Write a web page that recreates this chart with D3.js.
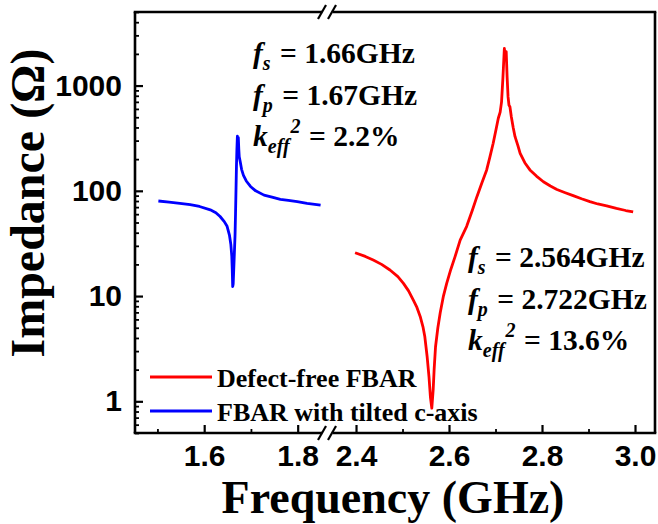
<!DOCTYPE html>
<html>
<head>
<meta charset="utf-8">
<script src="https://cdn.jsdelivr.net/npm/d3@7"></script>
<style>
  html, body { margin: 0; padding: 0; background: #fff; }
  svg { display: block; }
</style>
</head>
<body>
<svg id="chart" width="658" height="524"></svg>
<script>
// ---- data ----
const blueFreq = [1.502, 1.525, 1.548, 1.570, 1.590, 1.613, 1.625, 1.634, 1.643, 1.649, 1.654, 1.657, 1.659, 1.660, 1.661, 1.662, 1.664, 1.666, 1.667, 1.668, 1.669, 1.670, 1.671, 1.672, 1.673, 1.674, 1.675, 1.677, 1.680, 1.684, 1.690, 1.699, 1.710, 1.728, 1.745, 1.763, 1.780, 1.799, 1.820, 1.849];
const blueZ    = [80, 78, 76, 74, 71, 66, 62, 57, 51, 46, 38, 31, 24, 18, 12.3, 13, 22, 38, 60, 100, 170, 250, 330, 270, 320, 250, 210, 190, 160, 140, 124, 110, 100, 91, 87, 83, 81, 79, 76, 73];

const redFreq = [2.398, 2.420, 2.437, 2.455, 2.473, 2.490, 2.502, 2.513, 2.523, 2.531, 2.538, 2.544, 2.548, 2.553, 2.557, 2.560, 2.563, 2.566, 2.568, 2.571, 2.576, 2.581, 2.588, 2.595, 2.604, 2.613, 2.624, 2.638, 2.650, 2.660, 2.671, 2.681, 2.688, 2.695, 2.701, 2.706, 2.710, 2.713, 2.716, 2.719, 2.721, 2.723, 2.725, 2.727, 2.729, 2.731, 2.734, 2.738, 2.742, 2.748, 2.753, 2.763, 2.774, 2.788, 2.803, 2.818, 2.832, 2.850, 2.867, 2.885, 2.903, 2.920, 2.939, 2.960, 2.980, 2.996];
const redZ    = [25.8, 23.8, 22, 20, 17.7, 15.3, 13.2, 11.2, 9.2, 7.8, 6.4, 5.1, 4.1, 2.65, 1.7, 1.1, 0.86, 1.3, 2.0, 3.3, 5.0, 6.9, 10, 13.2, 18, 23.7, 34, 46, 65, 88, 120, 158, 210, 283, 380, 489, 560, 700, 1200, 2250, 1900, 2100, 1200, 780, 650, 630, 506, 400, 327, 270, 227, 185, 158, 138, 122, 111, 103, 96, 90, 84, 79, 75, 72, 68, 65, 63];

const xTicksLeft  = [1.6, 1.8];
const xMinorLeft  = [1.5, 1.7];
const xTicksRight = [2.4, 2.6, 2.8, 3.0];
const xMinorRight = [2.5, 2.7, 2.9];
const yTicks = [1, 10, 100, 1000];
const seriesNames = ["Defect-free FBAR", "FBAR with tilted c-axis"];
const seriesColors = ["#ff0000", "#0000ff"];
const annoLeft  = { fs: "1.66GHz", fp: "1.67GHz", k: "2.2%" };
const annoRight = { fs: "2.564GHz", fp: "2.722GHz", k: "13.6%" };

(function () {
// ---- layout ----
const svg = d3.select("#chart");
const pTop = 12, pBottom = 433, pLeft = 135, pRight = 655;
const breakL = 322, breakR = 333;

const xL = d3.scaleLinear().domain([1.452, 1.852]).range([pLeft, breakL]);
const xR = d3.scaleLinear().domain([2.3505, 3.043]).range([breakR, pRight]);
const y  = d3.scaleLog().domain([0.5, 5000]).range([pBottom, pTop]);

const serif = "'Liberation Serif', 'Times New Roman', serif";
const sans  = "'Liberation Sans', Arial, sans-serif";

// minor y ticks
const yMinor = [];
[0.1, 1, 10, 100, 1000].forEach(d => { for (let k = 2; k <= 9; k++) { const v = d * k; if (v >= 0.5 && v <= 5000) yMinor.push(v); } });

// y axis
const gy = svg.append("g").attr("transform", `translate(${pLeft},0)`);
gy.call(d3.axisLeft(y).tickValues(yMinor).tickSize(-4).tickFormat(""));
gy.selectAll(".tick line").attr("stroke-width", 1.8);
const gy2 = svg.append("g").attr("transform", `translate(${pLeft},0)`);
gy2.call(d3.axisLeft(y).tickValues(yTicks).tickSize(-8).tickPadding(13).tickFormat(d3.format("d")));
gy2.selectAll(".tick line").attr("stroke-width", 2.2);
gy2.selectAll("text").attr("font-family", sans).attr("font-weight", "bold").attr("font-size", 30).attr("fill", "#000");
svg.selectAll(".domain").remove();

// x axes
function xAxis(scale, major, minor) {
  const g1 = svg.append("g").attr("transform", `translate(0,${pBottom})`);
  g1.call(d3.axisBottom(scale).tickValues(minor).tickSize(-4).tickFormat(""));
  g1.selectAll(".tick line").attr("stroke-width", 1.8);
  const g2 = svg.append("g").attr("transform", `translate(0,${pBottom})`);
  g2.call(d3.axisBottom(scale).tickValues(major).tickSize(-8).tickPadding(12).tickFormat(d3.format(".1f")));
  g2.selectAll(".tick line").attr("stroke-width", 2.2);
  g2.selectAll("text").attr("font-family", sans).attr("font-weight", "bold").attr("font-size", 30).attr("fill", "#000");
  g1.select(".domain").remove(); g2.select(".domain").remove();
}
xAxis(xL, xTicksLeft, xMinorLeft);
xAxis(xR, xTicksRight, xMinorRight);

// frame
const frame = svg.append("g").attr("stroke", "#000").attr("stroke-width", 2.6).attr("fill", "none");
frame.append("line").attr("x1", pLeft).attr("x2", pLeft).attr("y1", pTop).attr("y2", pBottom);
frame.append("line").attr("x1", pRight).attr("x2", pRight).attr("y1", pTop).attr("y2", pBottom);
[pTop, pBottom].forEach(yy => {
  frame.append("line").attr("x1", pLeft - 1.3).attr("x2", breakL).attr("y1", yy).attr("y2", yy);
  frame.append("line").attr("x1", breakR).attr("x2", pRight + 1.3).attr("y1", yy).attr("y2", yy);
  [breakL, breakR - 1].forEach(bx => {
    svg.append("path").attr("d", `M${bx - 4},${yy + 7} L${bx + 4},${yy - 7}`)
      .attr("stroke", "#000").attr("stroke-width", 2.2).attr("fill", "none");
  });
});

// curves
const blue = blueFreq.map((f, i) => [f, blueZ[i]]);
const red  = redFreq.map((f, i) => [f, redZ[i]]);
svg.append("path").datum(red)
  .attr("d", d3.line().x(d => xR(d[0])).y(d => y(d[1])))
  .attr("fill", "none").attr("stroke", seriesColors[0]).attr("stroke-width", 2.8).attr("stroke-linejoin", "round");
svg.append("path").datum(blue)
  .attr("d", d3.line().x(d => xL(d[0])).y(d => y(d[1])))
  .attr("fill", "none").attr("stroke", seriesColors[1]).attr("stroke-width", 2.8).attr("stroke-linejoin", "round");

// legend
seriesNames.forEach((name, i) => {
  const ly = 377 + i * 34;
  svg.append("line").attr("x1", 150).attr("x2", 212).attr("y1", ly).attr("y2", ly)
    .attr("stroke", seriesColors[i]).attr("stroke-width", 2.8);
  svg.append("text").attr("x", 217).attr("y", ly + 10).text(name)
    .attr("font-family", serif).attr("font-weight", "bold").attr("font-size", 26).attr("fill", "#000");
});

// annotations
function anno(x, y0, gap, a) {
  const fs = 29.5, sub = 20;
  const rows = [
    { main: "f", sub: "s", sup: null, rest: " = " + a.fs },
    { main: "f", sub: "p", sup: null, rest: " = " + a.fp },
    { main: "k", sub: "eff", sup: "2", rest: " = " + a.k }
  ];
  rows.forEach((r, i) => {
    const t = svg.append("text").attr("x", x).attr("y", y0 + i * gap)
      .attr("font-family", serif).attr("font-weight", "bold").attr("font-size", fs).attr("fill", "#000");
    t.append("tspan").attr("font-style", "italic").text(r.main);
    t.append("tspan").attr("font-style", "italic").attr("font-size", sub).attr("dy", 7).text(r.sub);
    if (r.sup) {
      t.append("tspan").attr("font-style", "italic").attr("font-size", sub).attr("dy", -20).attr("dx", 1).text(r.sup);
      t.append("tspan").attr("dy", 13).attr("dx", 1).text(r.rest);
    } else {
      t.append("tspan").attr("dy", -7).attr("dx", 2).text(r.rest);
    }
  });
}
anno(253, 63, 41.5, annoLeft);
anno(468, 267, 41.5, annoRight);

// axis titles
svg.append("text").attr("x", 393).attr("y", 513).attr("text-anchor", "middle")
  .attr("font-family", serif).attr("font-weight", "bold").attr("font-size", 46).attr("fill", "#000")
  .text("Frequency (GHz)");
svg.append("text").attr("transform", "translate(44,203) rotate(-90)").attr("text-anchor", "middle")
  .attr("font-family", serif).attr("font-weight", "bold").attr("font-size", 48).attr("fill", "#000")
  .text("Impedance (Ω)");
})();
</script>
</body>
</html>
